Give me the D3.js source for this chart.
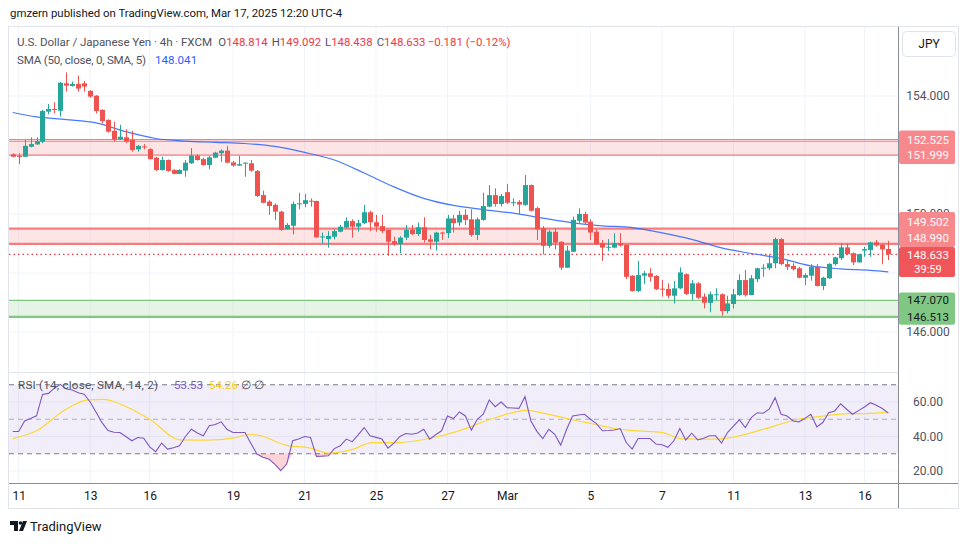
<!DOCTYPE html>
<html><head><meta charset="utf-8">
<script src="https://cdn.jsdelivr.net/npm/d3@7"></script>
<style>
html,body{margin:0;padding:0;background:#fff;}
svg{display:block;font-family:Roboto,"Open Sans",sans-serif;}
</style></head><body>
<svg id="c" width="970" height="545"></svg>
<script>
// ---------- DATA ----------
const open=[152.02,151.97,151.94,152.28,152.36,152.45,153.47,153.56,153.50,154.43,
154.34,154.41,154.43,154.17,154.01,153.53,153.19,152.82,152.54,152.60,
152.51,152.19,152.29,152.20,151.91,151.49,151.83,151.49,151.36,151.47,
151.72,151.98,151.86,151.66,151.91,152.06,152.15,151.75,151.64,151.73,
151.72,151.46,150.64,150.42,150.31,150.08,149.48,149.60,150.35,150.34,
150.45,150.44,149.23,149.15,149.23,149.40,149.54,149.76,149.57,149.69,
150.06,149.72,149.59,149.46,149.08,148.98,149.20,149.46,149.32,149.55,
149.14,149.06,149.37,149.35,149.85,149.71,149.97,149.82,149.29,149.80,
150.25,150.64,150.34,150.74,150.38,150.41,150.31,150.98,150.20,149.52,
148.92,149.40,149.06,148.18,148.72,149.77,150.00,149.74,149.40,149.01,
148.86,148.86,149.01,148.95,147.91,147.39,147.91,147.99,147.90,147.47,
147.46,147.23,147.48,147.96,147.29,147.65,147.20,146.99,147.27,147.28,
146.71,146.95,147.25,147.76,147.25,147.79,148.17,148.16,148.33,149.15,
148.30,148.24,148.16,147.84,147.91,148.21,147.56,147.82,148.30,148.50,
148.87,148.67,148.36,148.76,148.78,149.04,148.95,148.814];
const high=[152.06,152.06,152.51,152.60,152.60,153.53,153.73,153.79,154.47,154.80,
154.49,154.69,154.51,154.20,154.03,153.55,153.21,153.13,153.02,152.87,
152.82,152.34,152.37,152.23,151.94,151.94,151.85,151.52,151.52,151.83,
152.23,152.02,151.91,151.97,152.11,152.19,152.31,151.80,151.97,151.75,
151.83,151.49,150.79,150.47,150.36,150.11,149.69,150.42,150.72,150.68,
150.53,150.45,149.37,149.42,149.48,149.63,149.89,149.82,149.80,150.31,
150.11,149.97,149.97,149.48,149.23,149.25,149.63,149.63,149.71,149.89,
149.29,149.40,149.40,149.97,149.97,150.11,150.16,150.16,149.89,150.72,
150.98,150.87,150.68,151.02,150.53,150.47,151.32,151.00,150.25,149.59,
149.46,149.52,149.07,148.92,149.91,150.19,150.08,149.82,149.48,149.12,
149.15,149.35,149.35,148.96,147.93,148.41,148.07,148.16,147.93,147.76,
147.65,147.73,148.19,147.99,147.76,147.69,147.31,147.37,147.48,147.31,
147.23,147.46,147.96,148.10,147.93,148.18,148.30,148.63,149.20,149.18,
148.44,148.33,148.21,147.99,148.30,148.30,147.87,148.33,148.55,149.01,
149.01,148.70,148.65,148.89,149.06,149.12,149.01,149.092];
const low=[151.92,151.69,151.93,152.26,152.34,152.40,153.38,153.41,153.30,154.15,
154.32,154.15,154.15,153.94,153.41,153.07,152.76,152.45,152.51,152.40,
152.11,152.11,152.19,151.85,151.46,151.47,151.43,151.35,151.35,151.26,
151.70,151.81,151.64,151.52,151.89,151.77,151.72,151.60,151.63,151.26,
151.43,150.57,150.36,149.97,149.80,149.43,149.46,149.31,150.16,150.23,
150.25,149.20,148.98,148.86,149.14,149.38,149.52,149.20,149.40,149.66,
149.42,149.40,149.35,148.58,148.92,148.67,149.12,149.29,149.25,149.03,
148.81,148.76,149.12,149.18,149.37,149.59,149.63,149.23,149.12,149.77,
150.23,150.25,150.25,150.34,150.27,150.00,150.28,150.08,149.12,148.63,
148.84,148.80,148.10,148.17,148.71,149.69,149.63,149.12,148.95,148.41,
148.75,148.84,148.89,147.80,147.37,147.35,147.62,147.71,147.42,147.20,
147.14,146.97,147.46,147.25,147.08,147.12,146.80,146.67,147.08,146.55,
146.63,146.80,147.23,147.20,147.25,147.69,147.87,148.10,148.16,148.27,
148.10,148.08,147.82,147.59,147.74,147.54,147.42,147.80,148.25,148.44,
148.61,148.27,148.35,148.55,148.55,148.89,148.30,148.438];
const close=[151.94,151.95,152.31,152.37,152.47,153.49,153.56,153.54,154.45,154.35,
154.41,154.25,154.32,153.98,153.49,153.15,152.79,152.53,152.62,152.45,
152.17,152.31,152.27,151.86,151.49,151.83,151.46,151.36,151.49,151.74,
151.98,151.83,151.66,151.92,152.08,152.15,151.74,151.64,151.69,151.74,
151.47,150.61,150.38,150.27,150.08,149.46,149.63,150.34,150.36,150.47,
150.44,149.21,149.24,149.26,149.42,149.57,149.76,149.57,149.69,150.06,
149.72,149.57,149.42,149.06,148.98,149.20,149.46,149.32,149.55,149.12,
149.06,149.37,149.36,149.85,149.69,149.97,149.80,149.29,149.82,150.27,
150.64,150.34,150.61,150.38,150.40,150.32,150.98,150.11,149.48,148.92,
149.40,149.03,148.18,148.76,149.80,150.00,149.71,149.37,148.98,148.86,
148.89,149.01,148.93,147.87,147.39,147.93,147.99,147.87,147.45,147.46,
147.23,147.48,148.02,147.29,147.65,147.16,146.99,147.28,147.28,146.71,
146.97,147.28,147.76,147.25,147.82,148.16,148.18,148.33,149.15,148.30,
148.21,148.13,147.84,147.93,148.21,147.56,147.84,148.31,148.53,148.87,
148.64,148.36,148.64,148.81,149.04,148.93,148.80,148.633];
// SMA(50) read at selected bars
const smaIdx=[1,5,10,15,20,25,30,35,40,45,50,55,60,65,70,75,80,85,90,95,100,105,110,115,120,125,130,135,140,145,148];
const smaVal=[153.44,153.29,153.20,153.09,152.79,152.56,152.47,152.43,152.39,152.29,152.09,151.83,151.39,150.92,150.53,150.29,150.15,150.03,149.86,149.70,149.60,149.54,149.36,149.14,148.85,148.66,148.49,148.24,148.14,148.09,148.041];
// RSI(14) per bar
const rsi=[42.9,42.9,49,50.5,52,64.4,65,68,70.2,67.5,
67,65.4,64.5,60,54,48,43.5,42.5,42.3,40,
37.5,39.4,39,34,31.2,36.2,32.7,33.5,34.6,40,
44.2,42,40.4,46.2,47,48.5,44,42.3,42.3,42.3,
36,29.8,28,26.9,24,20.2,24,37.5,38.5,40,
39.4,28.5,28.6,28.8,33,34.6,38.5,37,41,45.2,
40.4,39.5,38.5,33.3,36.2,40,41.7,41.3,42,44.2,
38.5,41,43.3,51.9,50.4,54.2,51.9,43.7,50,52.9,
61.2,57.3,60,56.7,56.5,56.3,63.1,49,43,38.8,
44.2,41.3,35,44.2,51.9,52.5,52.9,50,47.5,43.3,
43.5,43.8,44.6,36.5,32.7,38.8,38.8,38.8,35.6,35.2,
33.7,37.5,44.6,38,41.9,38,39,40.4,40.4,36.2,
42.3,46,49.6,45.2,51,53.8,53.5,55.8,62.5,52.9,
51.9,49,48.5,50.5,52.9,45.6,48.1,53.8,54.8,59,
55.8,52.9,55,57.1,59.6,58.1,56.2,53.53];
const rsiSmaIdx=[1,5,9.5,13.6,16.2,19.8,24,29.2,33.3,38.5,40.6,42.7,46.8,51,54,58.2,61.3,65.5,71.7,75.9,82.1,87.3,90.4,94.5,98.7,102.8,105.9,110.1,113.2,118.4,121.5,126.7,132.9,137.1,141.3,144.4,148];
const rsiSmaVal=[38.8,43.3,54.8,61.2,61.5,57.7,50,38,37.9,39.4,41.3,40.4,35,33.3,30.4,32.7,36.5,36.5,39.4,43.3,51,55.2,53.3,50,47.1,44.2,43.3,42.3,38.8,38.5,39.4,43.8,50,51.9,53.3,53.3,54.26];
// time axis
const tickIdx=[2,14,24,38,50,62,74,84,98,110,122,134,144];
const tickLabels=["11","13","16","19","21","25","27","Mar","5","7","11","13","16"];
// price ticks
const priceTicks=[146,148,150,152,154];
const rsiTicks=[20,40,60];
const rsiLevels=[70,50,30];
// zones
const zoneTop=[152.525,149.502,147.070];
const zoneBot=[151.999,148.990,146.513];
const zoneKind=["red","red","green"];
const lastPrice=148.633, smaLast=148.041, rsiLast=53.53, rsiSmaLast=54.26;
const change="−0.181 (−0.12%)";

// ---------- LAYOUT ----------
const svg=d3.select('#c');
const L=9,R=898,T=27,PB=372,RB=483,AB=508,OR=958;
const UP='#26a69a',DN='#ef5350';
const x=d3.scaleLinear().domain([1,148]).range([12.7,888.3]);
const yP=d3.scaleLinear().domain([146,154]).range([332,96]);
const yR=d3.scaleLinear().domain([20,60]).range([471,402]);
const idx=d3.range(1,149);
const f3=d3.format('.3f');

svg.append('rect').attr('x',L-0.5).attr('y',T-0.5).attr('width',OR-L+1).attr('height',AB-T+1)
  .attr('fill','#fff').attr('stroke','#e0e3eb');

const defs=svg.append('defs');
defs.append('clipPath').attr('id','cp').append('rect').attr('x',L).attr('y',T).attr('width',R-L).attr('height',PB-T);
defs.append('clipPath').attr('id','cr').append('rect').attr('x',L).attr('y',PB).attr('width',R-L).attr('height',RB-PB);

// grid
const g=svg.append('g');
g.selectAll('.vg').data(tickIdx).join('line').attr('x1',d=>x(d)).attr('x2',d=>x(d)).attr('y1',T).attr('y2',RB).attr('stroke','#f0f3fa');
g.selectAll('.hg').data(priceTicks).join('line').attr('x1',L).attr('x2',R).attr('y1',d=>yP(d)).attr('y2',d=>yP(d)).attr('stroke','#f0f3fa');
g.selectAll('.rg').data(rsiTicks).join('line').attr('x1',L).attr('x2',R).attr('y1',d=>yR(d)).attr('y2',d=>yR(d)).attr('stroke','#f0f3fa');
svg.append('line').attr('x1',L).attr('x2',R).attr('y1',PB+0.5).attr('y2',PB+0.5).attr('stroke','#e0e3eb');

// main pane
const mp=svg.append('g').attr('clip-path','url(#cp)');
zoneTop.forEach((t,i)=>{
  const col=zoneKind[i]==='red'?'#f77c80':'#81c784';
  const fill=zoneKind[i]==='red'?'rgba(247,124,128,0.2)':'rgba(129,199,132,0.2)';
  mp.append('rect').attr('x',L).attr('width',R-L).attr('y',yP(t)).attr('height',yP(zoneBot[i])-yP(t)).attr('fill',fill);
  const w1=i===0?1:(i===1?2.2:1.2), w2=i===0?1.3:(i===1?2.2:2.2);
  mp.append('line').attr('x1',L).attr('x2',R).attr('y1',yP(t)).attr('y2',yP(t)).attr('stroke',col).attr('stroke-width',w1);
  mp.append('line').attr('x1',L).attr('x2',R).attr('y1',yP(zoneBot[i])).attr('y2',yP(zoneBot[i])).attr('stroke',col).attr('stroke-width',w2);
});
mp.append('line').attr('x1',L).attr('x2',R).attr('y1',yP(152.465)).attr('y2',yP(152.465)).attr('stroke','#f77c80').attr('stroke-width',1);
mp.append('line').attr('x1',L).attr('x2',R).attr('y1',yP(lastPrice)).attr('y2',yP(lastPrice))
  .attr('stroke','#f23645').attr('stroke-dasharray','1.5,3').attr('stroke-width',1.2);

// SMA
mp.append('path').datum(smaIdx.map((d,i)=>[d,smaVal[i]]))
  .attr('d',d3.line().x(d=>x(d[0])).y(d=>yP(d[1])).curve(d3.curveMonotoneX))
  .attr('fill','none').attr('stroke','#2962ff').attr('stroke-width',1.2).attr('opacity',0.85);

// candles
const cg=mp.append('g');
cg.selectAll('.w').data(idx).join('line')
  .attr('x1',d=>Math.round(x(d))+0.5).attr('x2',d=>Math.round(x(d))+0.5)
  .attr('y1',d=>yP(high[d-1])).attr('y2',d=>yP(low[d-1]))
  .attr('stroke',d=>close[d-1]>=open[d-1]?UP:DN).attr('stroke-width',1);
cg.selectAll('.b').data(idx).join('rect')
  .attr('x',d=>Math.round(x(d))-2).attr('width',5)
  .attr('y',d=>yP(Math.max(open[d-1],close[d-1])))
  .attr('height',d=>Math.max(1,Math.abs(yP(open[d-1])-yP(close[d-1]))))
  .attr('fill',d=>close[d-1]>=open[d-1]?UP:DN);

// RSI pane
const rp=svg.append('g').attr('clip-path','url(#cr)');
rp.append('rect').attr('x',L).attr('width',R-L).attr('y',yR(70)).attr('height',yR(30)-yR(70)).attr('fill','rgba(126,87,194,0.1)');
rsiLevels.forEach(v=>{
  rp.append('line').attr('x1',L).attr('x2',R).attr('y1',yR(v)).attr('y2',yR(v))
    .attr('stroke',v===50?'rgba(120,123,134,0.55)':'#787b86').attr('stroke-dasharray','5,4');
});
rp.append('path').datum(idx).attr('d',d3.area().x(d=>x(d)).y0(yR(30)).y1(d=>yR(Math.min(30,rsi[d-1]))))
  .attr('fill','rgba(242,54,69,0.22)');
rp.append('path').datum(idx).attr('d',d3.area().x(d=>x(d)).y0(yR(70)).y1(d=>yR(Math.max(70,rsi[d-1]))))
  .attr('fill','rgba(8,153,129,0.2)');
rp.append('path').datum(rsiSmaIdx.map((d,i)=>[d,rsiSmaVal[i]]))
  .attr('d',d3.line().x(d=>x(d[0])).y(d=>yR(d[1])).curve(d3.curveMonotoneX))
  .attr('fill','none').attr('stroke','#fdd835').attr('stroke-width',1.2);
rp.append('path').datum(idx).attr('d',d3.line().x(d=>x(d)).y(d=>yR(rsi[d-1])))
  .attr('fill','none').attr('stroke','#7e57c2').attr('stroke-width',1.1);

// axes lines
svg.append('line').attr('x1',R+0.5).attr('x2',R+0.5).attr('y1',T).attr('y2',AB).attr('stroke','#8a8d96');
svg.append('line').attr('x1',L).attr('x2',OR).attr('y1',RB+0.5).attr('y2',RB+0.5).attr('stroke','#8a8d96');

// price axis
const pa=svg.append('g').attr('transform',`translate(${R},0)`)
  .call(d3.axisRight(yP).tickValues(priceTicks).tickFormat(f3).tickSize(0).tickPadding(0));
pa.select('.domain').remove();
pa.selectAll('text').attr('x',30).attr('text-anchor','middle').attr('font-size',12).attr('fill','#50535e').attr('font-family','Roboto,sans-serif');
const ra=svg.append('g').attr('transform',`translate(${R},0)`)
  .call(d3.axisRight(yR).tickValues(rsiTicks).tickFormat(d3.format('.2f')).tickSize(0).tickPadding(0));
ra.select('.domain').remove();
ra.selectAll('text').attr('x',30).attr('text-anchor','middle').attr('font-size',12).attr('fill','#50535e').attr('font-family','Roboto,sans-serif');

// time axis
const ta=svg.append('g').attr('transform',`translate(0,${RB})`)
  .call(d3.axisBottom(x).tickValues(tickIdx).tickFormat((d,i)=>tickLabels[i]).tickSize(0).tickPadding(8));
ta.select('.domain').remove();
ta.selectAll('text').attr('font-size',12).attr('fill','#131722').attr('font-family','Roboto,sans-serif');

// price labels boxes
function box(y1,y2,col,lines,tcol){
  svg.append('rect').attr('x',R+1).attr('y',y1).attr('width',56).attr('height',y2-y1).attr('rx',2).attr('fill',col);
  lines.forEach(l=>svg.append('text').attr('x',928).attr('y',l[1]).attr('dy','0.35em').attr('text-anchor','middle')
    .attr('font-size',l[2]||11.5).attr('fill',tcol).text(l[0]));
}
box(yP(zoneTop[0])-9,yP(zoneBot[0])+9,'#f7888c',[[f3(zoneTop[0]),yP(zoneTop[0])],[f3(zoneBot[0]),yP(zoneBot[0])]],'#fff');
box(212,247,'#f7888c',[[f3(zoneTop[1]),221.5],[f3(zoneBot[1]),237.5]],'#fff');
box(247,277,'#f0555a',[[f3(lastPrice),254.5,11.5],['39:59',269.5,11]],'#fff');
box(yP(zoneTop[2])-8,yP(zoneBot[2])+8,'#81c784',[[f3(zoneTop[2]),yP(zoneTop[2])],[f3(zoneBot[2]),yP(zoneBot[2])]],'#131722');
// JPY button
svg.append('rect').attr('x',902.5).attr('y',31.5).attr('width',53).attr('height',25).attr('rx',4).attr('fill','#fff').attr('stroke','#e0e3eb');
svg.append('text').attr('x',929).attr('y',44).attr('dy','0.35em').attr('text-anchor','middle').attr('font-size',12).attr('fill','#131722').text('JPY');

// header texts
function txt(xp,yp,s,col,size,len){
  const t=svg.append('text').attr('x',xp).attr('y',yp).attr('font-size',size).attr('fill',col).text(s);
  if(len) t.attr('textLength',len).attr('lengthAdjust','spacing');
  return t;
}
txt(10,17,'gmzern published on TradingView.com, Mar 17, 2025 12:20 UTC-4','#131722',11.4,null);
txt(17,46,'U.S. Dollar / Japanese Yen · 4h · FXCM','#50535e',11.6,195);
[['O',open[147],218.3],['H',high[147],271.7],['L',low[147],325],['C',close[147],376.7]].forEach(p=>{
  const t=svg.append('text').attr('x',p[2]).attr('y',46).attr('font-size',11.4).attr('fill','#50535e');
  t.append('tspan').text(p[0]);
  t.append('tspan').attr('fill','#f23645').text(f3(p[1]));
});
txt(427.7,46,change,'#f23645',11.4,null);
txt(17,64,'SMA (50, close, 0, SMA, 5)','#50535e',11.6,129);
txt(155,64,f3(smaLast),'#2962ff',11.6,null);
txt(18,389,'RSI (14, close, SMA, 14, 2)','#50535e',11.6,140);
txt(174,389,d3.format('.2f')(rsiLast),'#7e57c2',11.6,null);
txt(209,389,d3.format('.2f')(rsiSmaLast),'#f5d020',11.6,null);
txt(241,389,'∅  ∅','#50535e',11.6,null);

// TradingView logo
const lg2=svg.append('g').attr('fill','#131722');
lg2.append('path').attr('d','M10 521h8v10h-4v-6h-4z');
lg2.append('circle').attr('cx',20.5).attr('cy',523).attr('r',1.8);
lg2.append('path').attr('d','M23 521h4l-4 10h-4z');
svg.append('text').attr('x',30).attr('y',531).attr('font-size',13).attr('fill','#131722').text('TradingView');
</script>
</body></html>
